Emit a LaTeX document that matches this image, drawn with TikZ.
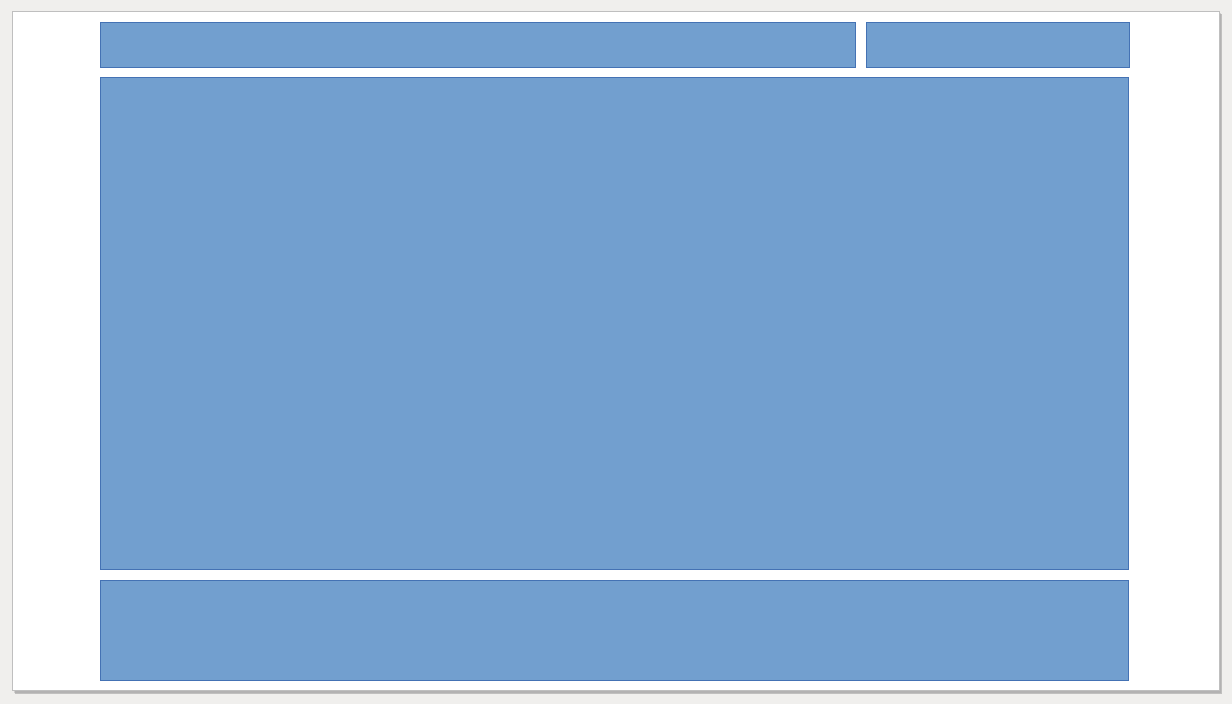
\documentclass[tikz,border=0pt]{standalone}
\usepackage{tikz}
\usetikzlibrary{positioning}
\definecolor{deskgray}{RGB}{240,239,237}
\definecolor{shadowgray}{RGB}{160,160,160}
\definecolor{panelblue}{RGB}{114,159,207}
\definecolor{paneledge}{RGB}{68,114,180}
\tikzset{
  panel/.style={
    draw=paneledge,
    fill=panelblue,
    line width=0.5pt,
    inner sep=0pt,
    outer sep=0pt
  },
  sheet/.style={
    fill=white,
    draw=black!25,
    line width=0.4pt
  }
}
\begin{document}
\begin{tikzpicture}[x=0.02cm,y=0.02cm,node distance=0.22cm]
\useasboundingbox (0,0) rectangle (1232,704);
\fill[deskgray] (0,0) rectangle (1232,704);
% page with its shadow
\fill[shadowgray,opacity=0.6] (15,10) rectangle (1222,690);
\fill[shadowgray,opacity=0.4] (14,11) rectangle (1221,691);
\draw[sheet] (12,14) rectangle (1219,693);
% panels
\node[panel,anchor=north west,minimum width=15.12cm,minimum height=0.9cm] (titel) at (100,682) {};
\node[panel,minimum width=5.26cm,minimum height=0.9cm,right=0.22cm of titel.north east,anchor=north west] (logo) {};
\node[panel,minimum width=20.58cm,minimum height=9.86cm,below=0.2cm of titel.south west,anchor=north west] (inhalt) {};
\node[panel,minimum width=20.58cm,minimum height=2cm,below=0.22cm of inhalt.south west,anchor=north west] (fuss) {};
\end{tikzpicture}
\end{document}
